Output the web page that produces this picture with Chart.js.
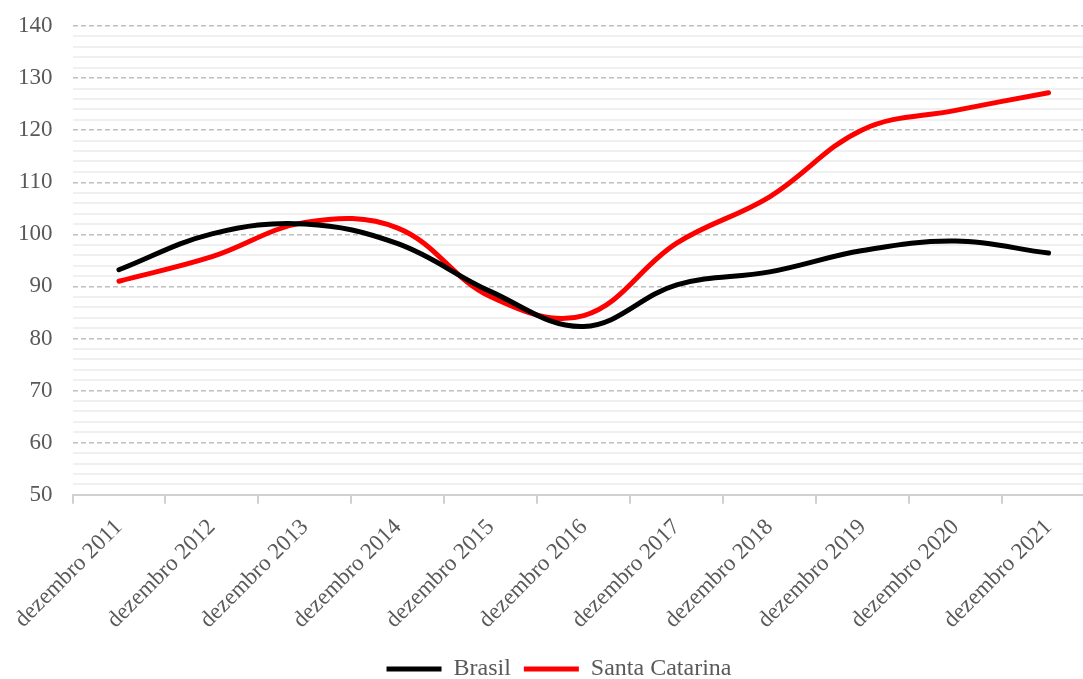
<!DOCTYPE html>
<html>
<head>
<meta charset="utf-8">
<script src="https://cdn.jsdelivr.net/npm/chart.js@4.4.1/dist/chart.umd.min.js"></script>
<style>
  html, body { margin: 0; padding: 0; background: #ffffff; overflow: hidden; }
  #wrap { position: relative; width: 1118px; height: 679px; }
</style>
</head>
<body>
<div id="wrap"><canvas id="c"></canvas></div>
<script>
const categories = ["dezembro 2011", "dezembro 2012", "dezembro 2013", "dezembro 2014", "dezembro 2015",
  "dezembro 2016", "dezembro 2017", "dezembro 2018", "dezembro 2019", "dezembro 2020", "dezembro 2021"];
const brasil = [93.2, 100.1, 102.0, 98.2, 89.0, 82.3, 90.3, 92.8, 96.9, 98.7, 96.4];
const santaCatarina = [91.0, 95.7, 102.3, 101.2, 88.0, 84.4, 98.3, 107.2, 120.1, 123.8, 127.2];
const yMin = 50, yMax = 140, yMinorStep = 2, yMajorStep = 10;

const FONT = "'Liberation Serif', 'Times New Roman', serif";
const TEXT = "#595959";

// centre the legend on the full (uncropped) canvas width
const legendCentre = {
  id: 'legendCentre',
  afterLayout(chart) {
    const lg = chart.legend;
    if (!lg) return;
    const shift = chart.width / 2 - (lg.left + lg.right) / 2;
    lg.left += shift;
    lg.right += shift;
  }
};

new Chart(document.getElementById('c'), {
  type: 'line',
  data: {
    labels: categories,
    datasets: [
      { label: 'Brasil', data: brasil, borderColor: '#000000', backgroundColor: '#000000',
        borderWidth: 5, pointRadius: 0, tension: 0.38, borderCapStyle: 'round', fill: false },
      { label: 'Santa Catarina', data: santaCatarina, borderColor: '#ff0000', backgroundColor: '#ff0000',
        borderWidth: 5, pointRadius: 0, tension: 0.38, borderCapStyle: 'round', fill: false }
    ]
  },
  plugins: [legendCentre],
  options: {
    responsive: true,
    maintainAspectRatio: false,
    animation: false,
    layout: { padding: { left: 12, right: 23, top: 26, bottom: -12 } },
    plugins: {
      tooltip: { enabled: false },
      legend: {
        position: 'bottom',
        labels: {
          font: { family: FONT, size: 24 },
          color: TEXT,
          usePointStyle: true,
          pointStyle: 'line',
          pointStyleWidth: 55,
          padding: 13
        }
      }
    },
    scales: {
      x: {
        offset: true,
        grid: { display: true, drawOnChartArea: false, drawTicks: true, tickLength: 9, offset: true,
                color: '#d0d0d0', lineWidth: 2 },
        border: { display: true, color: '#d0d0d0', width: 2 },
        ticks: {
          font: { family: FONT, size: 23 }, color: TEXT,
          maxRotation: 45, minRotation: 45, autoSkip: false, padding: 10
        }
      },
      y: {
        min: yMin, max: yMax,
        grid: {
          drawTicks: true,
          tickLength: 14,
          tickColor: 'rgba(0,0,0,0)',
          color: (ctx) => {
            const v = ctx.tick ? ctx.tick.value : null;
            if (v === yMin) return 'rgba(0,0,0,0)';
            return (v % yMajorStep === 0) ? '#bfbfbf' : '#f0f0f0';
          },
          lineWidth: (ctx) => {
            const v = ctx.tick ? ctx.tick.value : null;
            return (v % yMajorStep === 0) ? 1.5 : 2;
          }
        },
        border: {
          display: false,
          dash: (ctx) => {
            const v = ctx.tick ? ctx.tick.value : null;
            return (v !== null && v % yMajorStep === 0) ? [5, 3] : [];
          }
        },
        ticks: {
          stepSize: yMinorStep,
          autoSkip: false,
          font: { family: FONT, size: 23 }, color: TEXT,
          padding: 6,
          callback: (v) => (v % yMajorStep === 0 ? String(v) : '')
        }
      }
    }
  }
});
</script>
</body>
</html>
